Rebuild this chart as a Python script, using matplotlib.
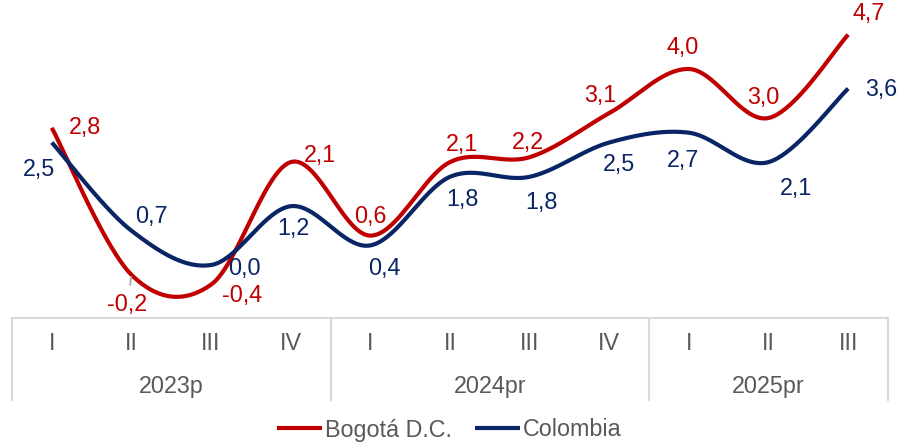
import numpy as np
import matplotlib
matplotlib.use('Agg')
import matplotlib.pyplot as plt
import matplotlib.transforms as mtransforms

plt.rcParams['font.family'] = ['Liberation Sans', 'DejaVu Sans']

# Data
quarters = ['I', 'II', 'III', 'IV', 'I', 'II', 'III', 'IV', 'I', 'II', 'III']
years = ['2023p', '2024pr', '2025pr']
year_sizes = [4, 4, 3]
bogota = [2.8, -0.2, -0.4, 2.1, 0.6, 2.1, 2.2, 3.1, 4.0, 3.0, 4.7]
colombia = [2.5, 0.7, 0.0, 1.2, 0.4, 1.8, 1.8, 2.5, 2.7, 2.1, 3.6]

red = '#C00000'
navy = '#0a2565'
grey_txt = '#595959'
grid_col = '#d9d9d9'
fs = 16.8

# label offsets in pixels (dx, dy) relative to each point
off_bog = [(33, 0), (-4, -30), (31, -11), (29, 7), (0, 19), (12, 18),
           (-2, 15), (-9, 18), (-6, 21), (-5, 20), (20, 21)]
off_col = [(-13, -27), (20, 14), (33, -3), (3, -22), (14, -23), (12, -23),
           (12, -26), (10, -22), (-6, -28), (27, -26), (33, -1)]


def smooth(y, n=40):
    # Excel-like smoothed line: cubic Bezier through the points
    y = np.asarray(y, float)
    x = np.arange(len(y), dtype=float)
    pts = np.column_stack([x, y])
    out = []
    for i in range(len(pts) - 1):
        p0 = pts[i - 1] if i > 0 else pts[i]
        p1, p2 = pts[i], pts[i + 1]
        p3 = pts[i + 2] if i + 2 < len(pts) else pts[i + 1]
        c1 = p1 + (p2 - p0) / 6
        c2 = p2 - (p3 - p1) / 6
        t = np.linspace(0, 1, n)[:, None]
        seg = ((1 - t) ** 3 * p1 + 3 * (1 - t) ** 2 * t * c1
               + 3 * (1 - t) * t ** 2 * c2 + t ** 3 * p2)
        out.append(seg if i == 0 else seg[1:])
    out = np.vstack(out)
    return out[:, 0], out[:, 1]


fig = plt.figure(figsize=(8.99, 4.43), dpi=100)
ax = fig.add_axes([12 / 899, 125 / 443, 876 / 899, 318 / 443])

xs, ys = smooth(bogota)
ax.plot(xs, ys, color=red, lw=3, solid_capstyle='butt', label='Bogotá D.C.')
xs, ys = smooth(colombia)
ax.plot(xs, ys, color=navy, lw=3, solid_capstyle='butt', label='Colombia')

idx = np.arange(len(quarters))
for i, v in enumerate(bogota):
    kw = {}
    if i == 1:
        kw['arrowprops'] = dict(arrowstyle='-', color='#a6a6a6', lw=1.2,
                                shrinkA=4, shrinkB=1.5)
    ax.annotate(f'{v:.1f}'.replace('.', ','), (idx[i], v),
                xytext=off_bog[i], textcoords='offset pixels',
                ha='center', va='center', color=red, fontsize=fs, **kw)
for i, v in enumerate(colombia):
    ax.annotate(f'{v:.1f}'.replace('.', ','), (idx[i], v),
                xytext=off_col[i], textcoords='offset pixels',
                ha='center', va='center', color=navy, fontsize=fs)

ax.set_xlim(-0.5, len(quarters) - 0.5)
ax.set_ylim(-53 / 49, 265 / 49)
for s in ['left', 'right', 'top']:
    ax.spines[s].set_visible(False)
ax.spines['bottom'].set_color(grid_col)
ax.spines['bottom'].set_linewidth(1.5)
ax.set_xticks([])
ax.set_yticks([])

# category table below the axis
trans = mtransforms.blended_transform_factory(ax.transData, ax.transAxes)
low = -82 / 318
bounds = np.concatenate([[0], np.cumsum(year_sizes)]) - 0.5
for b in bounds:
    ax.plot([b, b], [0, low], transform=trans, color=grid_col, lw=1.5,
            clip_on=False)
for i, q in enumerate(quarters):
    ax.text(i, -25 / 318, q, transform=trans, ha='center', va='center',
            color=grey_txt, fontsize=fs)
for k, yname in enumerate(years):
    ax.text((bounds[k] + bounds[k + 1]) / 2, -69 / 318, yname, transform=trans,
            ha='center', va='center', color=grey_txt, fontsize=fs)

leg = fig.legend(loc='center', bbox_to_anchor=(0.5, 13 / 443), ncol=2,
                 frameon=False, fontsize=fs, handlelength=1.9,
                 handletextpad=0.15, columnspacing=1.0, labelcolor=grey_txt)

fig.savefig('out.png', dpi=100)
